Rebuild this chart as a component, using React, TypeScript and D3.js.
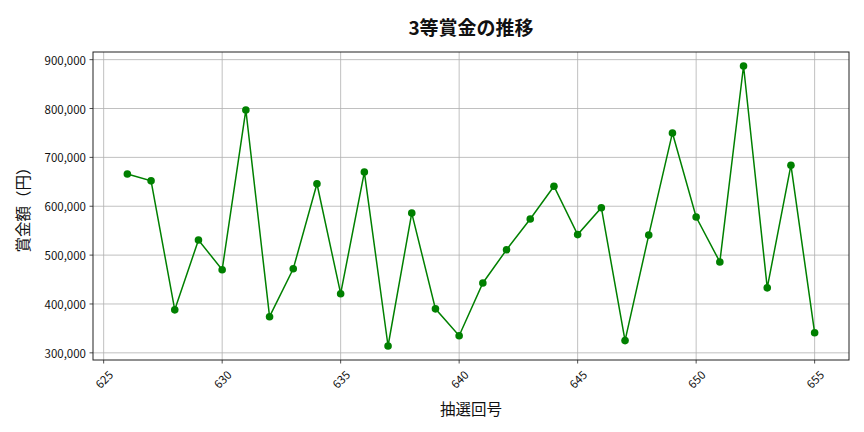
import * as d3 from 'd3';

const draws = [
  626, 627, 628, 629, 630, 631, 632, 633, 634, 635,
  636, 637, 638, 639, 640, 641, 642, 643, 644, 645,
  646, 647, 648, 649, 650, 651, 652, 653, 654, 655,
];
const prizes = [
  666000, 652000, 388000, 531000, 470000, 797000, 374000, 472000, 646000, 421000,
  670000, 314000, 586000, 390000, 335000, 443000, 511000, 574000, 641000, 542000,
  597000, 325000, 541000, 750000, 578000, 486000, 887000, 433000, 684000, 341000,
];
const xTicks = [625, 630, 635, 640, 645, 650, 655];
const yTicks = [300000, 400000, 500000, 600000, 700000, 800000, 900000];

const W = 864;
const H = 432;
const left = 93;
const right = 849;
const top = 52;
const bottom = 360;
const font = '"Noto Sans CJK JP", "Noto Sans", sans-serif';

export default function App() {
  const pad = (draws[draws.length - 1] - draws[0]) * 0.05;
  const x = d3.scaleLinear()
    .domain([draws[0] - pad, draws[draws.length - 1] + pad])
    .range([left, right]);
  const yMin = d3.min(prizes)!;
  const yMax = d3.max(prizes)!;
  const yPad = (yMax - yMin) * 0.05;
  const y = d3.scaleLinear()
    .domain([yMin - yPad, yMax + yPad])
    .range([bottom, top]);

  const line = d3.line<number>()
    .x((_, i) => x(draws[i]))
    .y(d => y(d));
  const fmt = d3.format(',');

  return (
    <svg width={W} height={H} style={{ position: 'absolute', left: 0, top: 0, background: '#fff' }}
      fontFamily={font}>
      {/* grid */}
      {xTicks.map(t => (
        <line key={'gx' + t} x1={x(t)} x2={x(t)} y1={top} y2={bottom} stroke="#b0b0b0" strokeWidth={0.8} />
      ))}
      {yTicks.map(t => (
        <line key={'gy' + t} x1={left} x2={right} y1={y(t)} y2={y(t)} stroke="#b0b0b0" strokeWidth={0.8} />
      ))}

      {/* series */}
      <path d={line(prizes) || ''} fill="none" stroke="#008000" strokeWidth={1.5} />
      {prizes.map((v, i) => (
        <circle key={i} cx={x(draws[i])} cy={y(v)} r={3.8} fill="#008000" />
      ))}

      {/* frame */}
      <rect x={left} y={top} width={right - left} height={bottom - top} fill="none" stroke="#222" strokeWidth={1} />

      {/* x axis */}
      {xTicks.map(t => (
        <g key={'xt' + t}>
          <line x1={x(t)} x2={x(t)} y1={bottom} y2={bottom + 3.5} stroke="#222" strokeWidth={0.8} />
          <text transform={`translate(${x(t)},${bottom + 19}) rotate(-45)`} textAnchor="middle"
            dominantBaseline="central" fontSize={11.5} fill="#111">{t}</text>
        </g>
      ))}

      {/* y axis */}
      {yTicks.map(t => (
        <g key={'yt' + t}>
          <line x1={left - 3.5} x2={left} y1={y(t)} y2={y(t)} stroke="#222" strokeWidth={0.8} />
          <text x={left - 7} y={y(t)} textAnchor="end" dominantBaseline="central"
            fontSize={11.5} fill="#111">{fmt(t)}</text>
        </g>
      ))}

      <text x={(left + right) / 2} y={26} textAnchor="middle" dominantBaseline="central"
        fontSize={19} fontWeight="bold" fill="#111">3等賞金の推移</text>
      <text x={(left + right) / 2} y={408} textAnchor="middle" dominantBaseline="central"
        fontSize={15.5} fill="#111">抽選回号</text>
      <text transform={`translate(22,${(top + bottom) / 2}) rotate(-90)`} textAnchor="middle"
        dominantBaseline="central" fontSize={15.5} fill="#111">賞金額（円）</text>
    </svg>
  );
}
